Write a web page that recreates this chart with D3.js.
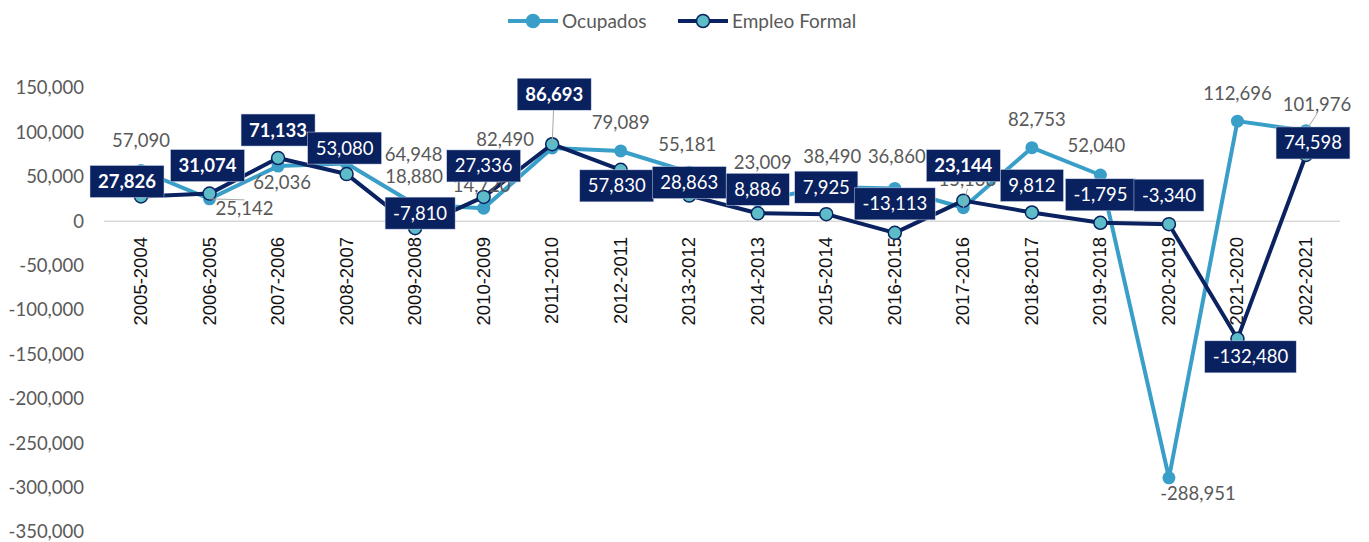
<!DOCTYPE html>
<html>
<head>
<meta charset="utf-8">
<script src="https://cdn.jsdelivr.net/npm/d3@7"></script>
<style>
  body { margin: 0; background: #fff; }
  svg { display: block; }
</style>
</head>
<body>
<div class="chart"></div>
<script>
// periodos y series
var categorias = ["2005-2004", "2006-2005", "2007-2006", "2008-2007", "2009-2008", "2010-2009",
                  "2011-2010", "2012-2011", "2013-2012", "2014-2013", "2015-2014", "2016-2015",
                  "2017-2016", "2018-2017", "2019-2018", "2020-2019", "2021-2020", "2022-2021"];
var series = ["Ocupados", "Empleo Formal"];
var data_ocupados = [57090, 25142, 62036, 64948, 18880, 14720, 82490, 79089, 55181,
                     23009, 38490, 36860, 15138, 82753, 52040, -288951, 112696, 101976];
var data_formal = [27826, 31074, 71133, 53080, -7810, 27336, 86693, 57830, 28863,
                   8886, 7925, -13113, 23144, 9812, -1795, -3340, -132480, 74598];
var ticks_y = [150000, 100000, 50000, 0, -50000, -100000, -150000, -200000, -250000, -300000, -350000];

// desplazamiento de las etiquetas (px) respecto al punto
var off_ocupados = [[0,-30],[35,10],[4,16],[67,-9],[-1,-28],[-2,-23],[-47,-8],[0,-28],[-2,-28],
                    [5,-38],[6,-30],[2,-32],[4,-28],[5,-28],[-4,-29],[29,16],[0,-28],[11,-26]];
var off_formal = [[-14,-15],[-2,-28],[0,-28],[-2,-26],[5,-15],[0,-31],[2,-50],[-4,16],[0,-13],
                  [0,-24],[0,-27],[0,-29],[0,-35],[0,-27],[0,-28],[0,-29],[13,18],[7,-12]];
var negritas = [0, 1, 2, 6, 12];
var guias_ocupados = [1, 12, 17];
var guias_formal = [6];

var c_ocup = "#3a9fc8", c_formal = "#0b2260", c_marca = "#5cbcc8", c_caja = "#0a2160";
var gris = "#595959";

var svg = d3.select(".chart").append("svg")
    .attr("width", 1369)
    .attr("height", 542);

var x = d3.scalePoint().domain(categorias).range([141, 1306]);
var y = d3.scaleLinear().domain([-350000, 150000]).range([532, 88]);

var fmt = function(d) { return d3.format(",")(d).replace("\u2212", "-"); };

// eje y
var ejeY = svg.append("g")
    .attr("transform", "translate(91,0)")
    .call(d3.axisLeft(y).tickValues(ticks_y).tickSize(0).tickPadding(7).tickFormat(fmt));
ejeY.select(".domain").remove();
ejeY.selectAll("text")
    .style("font-family", "Lato")
    .style("font-size", "18.5px")
    .attr("fill", gris);

// linea del cero
svg.append("line")
    .attr("x1", 104).attr("x2", 1340)
    .attr("y1", y(0)).attr("y2", y(0))
    .style("stroke", "#d9d9d9")
    .style("stroke-width", 1.5);

// etiquetas de categoria
categorias.forEach(function(c) {
    svg.append("text")
        .attr("transform", "translate(" + (x(c) + 6) + "," + 237 + ") rotate(-90)")
        .attr("text-anchor", "end")
        .text(c)
        .style("font-family", "Liberation Sans")
        .style("font-size", "18.5px")
        .attr("fill", "#111");
});

var linea = d3.line().x(function(d, i) { return x(categorias[i]); }).y(function(d) { return y(d); });

svg.append("path").datum(data_ocupados)
    .attr("d", linea)
    .attr("fill", "none")
    .style("stroke", c_ocup)
    .style("stroke-width", 4)
    .style("stroke-linejoin", "round");
svg.selectAll(".m_ocup").data(data_ocupados).enter().append("circle")
    .attr("cx", function(d, i) { return x(categorias[i]); })
    .attr("cy", function(d) { return y(d); })
    .attr("r", 6.5)
    .attr("fill", c_ocup);

svg.append("path").datum(data_formal)
    .attr("d", linea)
    .attr("fill", "none")
    .style("stroke", c_formal)
    .style("stroke-width", 4)
    .style("stroke-linejoin", "round");
svg.selectAll(".m_formal").data(data_formal).enter().append("circle")
    .attr("cx", function(d, i) { return x(categorias[i]); })
    .attr("cy", function(d) { return y(d); })
    .attr("r", 6.5)
    .attr("fill", c_marca)
    .style("stroke", c_formal)
    .style("stroke-width", 1.5);

// etiquetas ocupados
data_ocupados.forEach(function(d, i) {
    var px = x(categorias[i]), py = y(d);
    var lx = px + off_ocupados[i][0], ly = py + off_ocupados[i][1];
    if (guias_ocupados.indexOf(i) >= 0) {
        svg.append("line")
            .attr("x1", px).attr("y1", py)
            .attr("x2", lx).attr("y2", ly + (ly < py ? 9 : -9))
            .style("stroke", "#a6a6a6").style("stroke-width", 1);
    }
    svg.append("text")
        .attr("x", lx).attr("y", ly)
        .attr("text-anchor", "middle")
        .attr("dy", "0.35em")
        .text(fmt(d))
        .style("font-family", "Lato")
        .style("font-size", "18.5px")
        .attr("fill", gris);
});

// etiquetas empleo formal (cajas)
data_formal.forEach(function(d, i) {
    var px = x(categorias[i]), py = y(d);
    var lx = px + off_formal[i][0], ly = py + off_formal[i][1];
    if (guias_formal.indexOf(i) >= 0) {
        svg.append("line")
            .attr("x1", px).attr("y1", py)
            .attr("x2", lx).attr("y2", ly)
            .style("stroke", "#a6a6a6").style("stroke-width", 1);
    }
    var g = svg.append("g");
    var t = g.append("text")
        .attr("x", lx).attr("y", ly)
        .attr("text-anchor", "middle")
        .attr("dy", "0.35em")
        .text(fmt(d))
        .style("font-family", "Lato")
        .style("font-size", "18.5px")
        .style("font-weight", negritas.indexOf(i) >= 0 ? 700 : 400)
        .attr("fill", "#fff");
    var w = t.node().getComputedTextLength();
    g.insert("rect", "text")
        .attr("x", lx - w / 2 - 8)
        .attr("y", ly - 16)
        .attr("width", w + 16)
        .attr("height", 32)
        .attr("fill", c_caja)
        .style("stroke", "#c9d3e8")
        .style("stroke-width", 0.5);
});

// leyenda
var ley = [{n: series[0], x0: 508, c: c_ocup, f: c_ocup}, {n: series[1], x0: 678, c: c_formal, f: c_marca}];
ley.forEach(function(l) {
    svg.append("line")
        .attr("x1", l.x0).attr("x2", l.x0 + 50)
        .attr("y1", 21).attr("y2", 21)
        .style("stroke", l.c).style("stroke-width", 4);
    svg.append("circle")
        .attr("cx", l.x0 + 25).attr("cy", 21).attr("r", 6.5)
        .attr("fill", l.f)
        .style("stroke", l.c).style("stroke-width", 1.5);
    svg.append("text")
        .attr("x", l.x0 + 54).attr("y", 21)
        .attr("dy", "0.35em")
        .text(l.n)
        .style("font-family", "Lato")
        .style("font-size", "19px")
        .attr("fill", gris);
});
</script>
</body>
</html>
